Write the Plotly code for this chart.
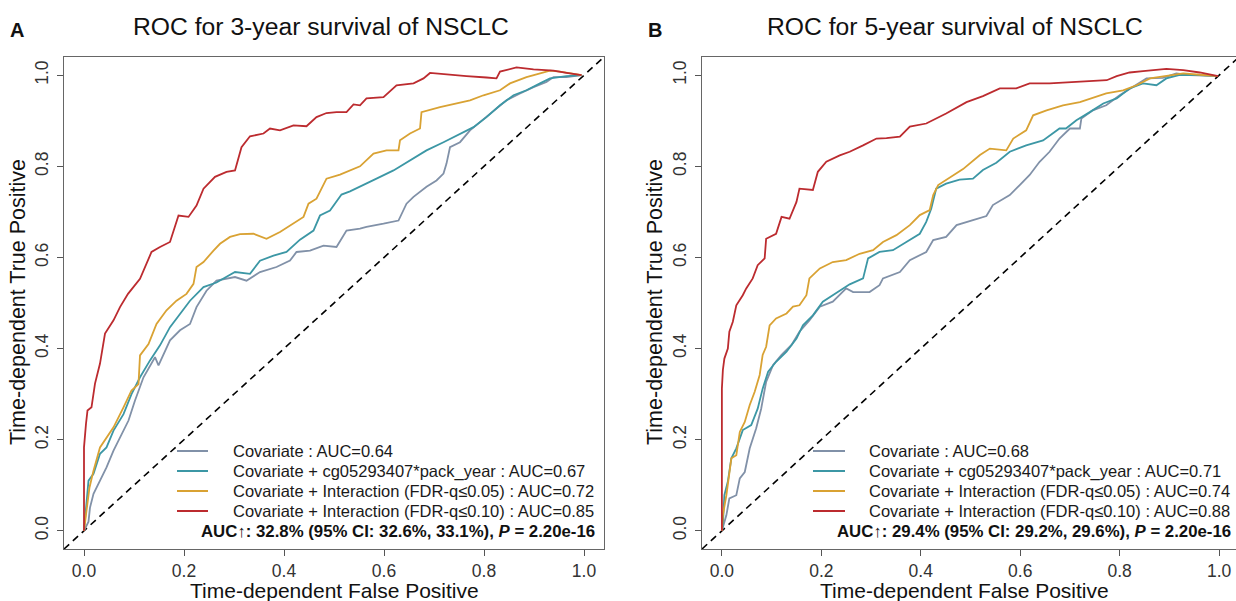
import plotly.graph_objects as go

# ---------------- data ----------------
# Panel A: 3-year survival
a_cov_x = [0.0, 0.009, 0.012, 0.019, 0.032, 0.045, 0.059, 0.072, 0.089, 0.102, 0.119, 0.142, 0.149, 0.172, 0.192, 0.212, 0.225, 0.245, 0.265, 0.302, 0.325, 0.352, 0.385, 0.412, 0.425, 0.452, 0.479, 0.505, 0.525, 0.552, 0.565, 0.599, 0.629, 0.645, 0.659, 0.685, 0.705, 0.719, 0.725, 0.732, 0.752, 0.772, 0.792, 0.819, 0.845, 0.872, 0.899, 0.925, 0.939, 0.965, 0.995]
a_cov_y = [0.0, 0.02, 0.051, 0.081, 0.110, 0.139, 0.176, 0.205, 0.242, 0.286, 0.337, 0.381, 0.363, 0.418, 0.440, 0.454, 0.491, 0.527, 0.549, 0.557, 0.549, 0.568, 0.579, 0.593, 0.612, 0.615, 0.626, 0.623, 0.659, 0.663, 0.667, 0.674, 0.681, 0.718, 0.733, 0.755, 0.769, 0.784, 0.806, 0.842, 0.853, 0.879, 0.897, 0.923, 0.945, 0.960, 0.974, 0.985, 0.996, 0.996, 1.0]

a_cg_x = [0.0, 0.009, 0.019, 0.032, 0.045, 0.059, 0.079, 0.095, 0.112, 0.132, 0.152, 0.172, 0.192, 0.212, 0.239, 0.265, 0.302, 0.332, 0.352, 0.379, 0.405, 0.432, 0.459, 0.472, 0.492, 0.515, 0.532, 0.552, 0.585, 0.619, 0.652, 0.685, 0.719, 0.752, 0.779, 0.805, 0.832, 0.859, 0.885, 0.912, 0.932, 0.965, 0.995]
a_cg_y = [0.0, 0.110, 0.125, 0.169, 0.183, 0.220, 0.256, 0.300, 0.337, 0.374, 0.407, 0.447, 0.476, 0.505, 0.535, 0.545, 0.568, 0.564, 0.593, 0.604, 0.612, 0.639, 0.659, 0.692, 0.703, 0.738, 0.745, 0.755, 0.773, 0.791, 0.813, 0.835, 0.853, 0.872, 0.886, 0.908, 0.934, 0.956, 0.967, 0.982, 0.993, 0.998, 1.0]

a_q05_x = [0.0, 0.002, 0.005, 0.011, 0.019, 0.032, 0.045, 0.059, 0.079, 0.095, 0.109, 0.112, 0.129, 0.145, 0.165, 0.185, 0.205, 0.219, 0.225, 0.239, 0.259, 0.272, 0.292, 0.312, 0.339, 0.365, 0.392, 0.419, 0.439, 0.449, 0.465, 0.485, 0.512, 0.552, 0.579, 0.605, 0.629, 0.632, 0.652, 0.672, 0.675, 0.712, 0.745, 0.772, 0.799, 0.832, 0.852, 0.885, 0.905, 0.932, 0.952, 0.995]
a_q05_y = [0.0, 0.022, 0.044, 0.095, 0.132, 0.183, 0.205, 0.227, 0.271, 0.308, 0.322, 0.385, 0.410, 0.454, 0.484, 0.505, 0.520, 0.542, 0.579, 0.590, 0.615, 0.630, 0.645, 0.651, 0.652, 0.641, 0.656, 0.674, 0.689, 0.718, 0.729, 0.773, 0.782, 0.800, 0.828, 0.835, 0.835, 0.857, 0.872, 0.883, 0.919, 0.930, 0.938, 0.945, 0.956, 0.967, 0.982, 0.996, 1.002, 1.010, 1.008, 1.0]

a_q10_x = [0.0, 0.0, 0.004, 0.007, 0.015, 0.022, 0.032, 0.042, 0.059, 0.072, 0.088, 0.112, 0.135, 0.152, 0.172, 0.189, 0.209, 0.225, 0.239, 0.262, 0.285, 0.302, 0.315, 0.332, 0.359, 0.372, 0.392, 0.419, 0.445, 0.465, 0.485, 0.505, 0.525, 0.539, 0.552, 0.565, 0.599, 0.625, 0.659, 0.679, 0.692, 0.719, 0.765, 0.805, 0.825, 0.832, 0.865, 0.899, 0.939, 0.965, 0.995]
a_q10_y = [0.0, 0.183, 0.235, 0.264, 0.271, 0.323, 0.367, 0.433, 0.462, 0.491, 0.520, 0.553, 0.612, 0.623, 0.634, 0.692, 0.689, 0.714, 0.751, 0.777, 0.788, 0.791, 0.842, 0.866, 0.872, 0.883, 0.879, 0.890, 0.888, 0.908, 0.917, 0.919, 0.919, 0.936, 0.934, 0.949, 0.952, 0.978, 0.982, 0.993, 1.005, 1.002, 0.998, 0.995, 0.993, 1.008, 1.017, 1.013, 1.010, 1.005, 1.0]

# Panel B: 5-year survival
b_cov_x = [0.0, 0.009, 0.015, 0.029, 0.036, 0.046, 0.056, 0.069, 0.079, 0.089, 0.103, 0.120, 0.140, 0.156, 0.176, 0.197, 0.223, 0.250, 0.264, 0.297, 0.317, 0.324, 0.358, 0.378, 0.411, 0.425, 0.451, 0.472, 0.505, 0.532, 0.545, 0.579, 0.599, 0.619, 0.639, 0.659, 0.679, 0.700, 0.720, 0.723, 0.746, 0.773, 0.800, 0.827, 0.854, 0.887, 0.914, 0.941, 0.998]
b_cov_y = [0.0, 0.034, 0.071, 0.078, 0.115, 0.129, 0.181, 0.225, 0.268, 0.327, 0.364, 0.386, 0.408, 0.437, 0.462, 0.492, 0.503, 0.532, 0.524, 0.524, 0.539, 0.554, 0.568, 0.594, 0.612, 0.638, 0.645, 0.671, 0.682, 0.691, 0.715, 0.737, 0.759, 0.781, 0.810, 0.832, 0.861, 0.883, 0.883, 0.905, 0.923, 0.934, 0.956, 0.974, 0.993, 0.994, 1.004, 1.0, 0.998]

b_cg_x = [0.0, 0.002, 0.005, 0.012, 0.019, 0.029, 0.042, 0.059, 0.072, 0.082, 0.093, 0.109, 0.130, 0.150, 0.163, 0.183, 0.203, 0.237, 0.257, 0.284, 0.294, 0.317, 0.344, 0.371, 0.398, 0.411, 0.421, 0.431, 0.451, 0.478, 0.505, 0.525, 0.552, 0.579, 0.612, 0.646, 0.666, 0.679, 0.692, 0.713, 0.740, 0.767, 0.794, 0.820, 0.847, 0.874, 0.894, 0.921, 0.961, 0.998]
b_cg_y = [0.0, 0.013, 0.078, 0.108, 0.159, 0.181, 0.221, 0.232, 0.268, 0.312, 0.349, 0.371, 0.393, 0.422, 0.451, 0.473, 0.503, 0.528, 0.541, 0.554, 0.598, 0.612, 0.616, 0.634, 0.652, 0.678, 0.707, 0.751, 0.762, 0.771, 0.773, 0.792, 0.808, 0.832, 0.846, 0.857, 0.872, 0.883, 0.883, 0.901, 0.919, 0.938, 0.949, 0.971, 0.982, 0.978, 0.993, 1.001, 1.0, 0.998]

b_q05_x = [0.0, 0.002, 0.009, 0.015, 0.019, 0.029, 0.036, 0.046, 0.056, 0.066, 0.076, 0.082, 0.089, 0.096, 0.109, 0.130, 0.143, 0.156, 0.170, 0.176, 0.197, 0.223, 0.250, 0.277, 0.304, 0.324, 0.351, 0.378, 0.398, 0.418, 0.425, 0.435, 0.458, 0.485, 0.519, 0.539, 0.572, 0.586, 0.612, 0.626, 0.653, 0.686, 0.720, 0.746, 0.773, 0.807, 0.834, 0.861, 0.894, 0.928, 0.961, 0.998]
b_q05_y = [0.0, 0.034, 0.078, 0.122, 0.159, 0.166, 0.217, 0.239, 0.276, 0.305, 0.342, 0.386, 0.404, 0.451, 0.466, 0.477, 0.492, 0.495, 0.517, 0.554, 0.576, 0.590, 0.594, 0.608, 0.616, 0.634, 0.649, 0.671, 0.693, 0.704, 0.737, 0.759, 0.775, 0.794, 0.825, 0.839, 0.835, 0.861, 0.879, 0.912, 0.923, 0.934, 0.941, 0.950, 0.960, 0.967, 0.978, 0.993, 0.998, 1.004, 1.001, 0.998]

b_q10_x = [0.0, 0.0, 0.002, 0.005, 0.012, 0.015, 0.022, 0.029, 0.042, 0.049, 0.062, 0.072, 0.086, 0.089, 0.109, 0.120, 0.136, 0.150, 0.156, 0.183, 0.193, 0.210, 0.237, 0.257, 0.284, 0.311, 0.331, 0.358, 0.378, 0.411, 0.451, 0.492, 0.525, 0.559, 0.592, 0.619, 0.659, 0.700, 0.740, 0.774, 0.794, 0.820, 0.847, 0.874, 0.894, 0.928, 0.961, 0.998]
b_q10_y = [0.0, 0.312, 0.353, 0.378, 0.400, 0.437, 0.459, 0.495, 0.517, 0.532, 0.554, 0.583, 0.598, 0.641, 0.652, 0.689, 0.685, 0.722, 0.751, 0.748, 0.788, 0.810, 0.824, 0.832, 0.846, 0.861, 0.862, 0.865, 0.887, 0.894, 0.916, 0.941, 0.954, 0.971, 0.971, 0.982, 0.982, 0.984, 0.987, 0.989, 0.998, 1.006, 1.009, 1.011, 1.014, 1.011, 1.006, 0.998]

diag = [-0.04, 1.04]
tick_vals = [0.0, 0.2, 0.4, 0.6, 0.8, 1.0]
tick_text = ["0.0", "0.2", "0.4", "0.6", "0.8", "1.0"]

series_names = ["Covariate", "Covariate + cg05293407*pack_year",
                "Covariate + Interaction (FDR-q\u22640.05)", "Covariate + Interaction (FDR-q\u22640.10)"]
auc_a = [0.64, 0.67, 0.72, 0.85]
auc_b = [0.68, 0.71, 0.74, 0.88]
colors = ["#8191A8", "#3C97A5", "#D9A233", "#BC2B2F"]

titles = ["ROC for 3-year survival of NSCLC", "ROC for 5-year survival of NSCLC"]
stat_a = "<b>AUC\u2191: 32.8% (95% CI: 32.6%, 33.1%), <i>P</i> = 2.20e-16</b>"
stat_b = "<b>AUC\u2191: 29.4% (95% CI: 29.2%, 29.6%), <i>P</i> = 2.20e-16</b>"

# ---------------- figure ----------------
W, H = 1236, 601
ML, MR, MT, MB = 64, 0, 57, 52
PW = W - ML - MR
PH = H - MT - MB

def px_x(p):
    return (p - ML) / PW

def px_y(p):
    return 1 - (p - MT) / PH

FONT = "Liberation Sans, Arial, sans-serif"
fig = go.Figure()

panelA = [(a_cov_x, a_cov_y), (a_cg_x, a_cg_y), (a_q05_x, a_q05_y), (a_q10_x, a_q10_y)]
panelB = [(b_cov_x, b_cov_y), (b_cg_x, b_cg_y), (b_q05_x, b_q05_y), (b_q10_x, b_q10_y)]

for axis_id, panel, aucs in [("", panelA, auc_a), ("2", panelB, auc_b)]:
    fig.add_trace(go.Scatter(x=diag, y=diag, mode="lines", showlegend=False,
                             line=dict(color="black", width=1.6, dash="7px,5px"),
                             xaxis="x" + axis_id, yaxis="y" + axis_id, hoverinfo="skip"))
    for (xs, ys), name, auc, col in zip(panel, series_names, aucs, colors):
        fig.add_trace(go.Scatter(x=xs, y=ys, mode="lines", showlegend=False,
                                 name=f"{name} : AUC={auc:.2f}",
                                 line=dict(color=col, width=1.8),
                                 xaxis="x" + axis_id, yaxis="y" + axis_id))

axis_common = dict(showgrid=False, zeroline=False, showline=True, mirror=True,
                   linecolor="#666666", linewidth=1.3, ticks="outside", ticklen=6,
                   tickcolor="#555555", tickwidth=1.2, tickvals=tick_vals, ticktext=tick_text,
                   tickfont=dict(family=FONT, size=17.5, color="#333333"))

xA0, xA1 = 0.0, px_x(604)
xB0, xB1 = px_x(702), 1.0

fig.update_layout(
    width=W, height=H, margin=dict(l=ML, r=MR, t=MT, b=MB),
    plot_bgcolor="white", paper_bgcolor="white", showlegend=False,
    xaxis=dict(domain=[xA0, xA1], range=[-0.04, 1.04], anchor="y", ticklabelstandoff=0, **axis_common),
    yaxis=dict(domain=[0, 1], range=[-0.04, 1.04], anchor="x", tickangle=-90, ticklabelstandoff=2, **axis_common),
    xaxis2=dict(domain=[xB0, xB1], range=[-0.04, 1.034], anchor="y2", ticklabelstandoff=0, **axis_common),
    yaxis2=dict(domain=[0, 1], range=[-0.04, 1.04], anchor="x2", tickangle=-90, ticklabelstandoff=2, **axis_common),
)

ann = []
shapes = []

def text(t, x, y, size, xanchor="center", angle=0, color="#111111"):
    ann.append(dict(text=t, x=px_x(x), y=px_y(y), xref="paper", yref="paper",
                    xanchor=xanchor, yanchor="middle", showarrow=False, textangle=angle,
                    font=dict(family=FONT, size=size, color=color)))

# panel letters
text("<b>A</b>", 17, 30, 20)
text("<b>B</b>", 655, 30, 20)
# titles
text(titles[0], 321, 26, 24.7)
text(titles[1], 955, 26, 24.7)
# axis titles
for cx in [334, 964]:
    text("Time-dependent False Positive", cx, 590, 21)
for cx in [18, 655]:
    text("Time-dependent True Positive", cx, 302, 21.5, angle=-90)

# legends (drawn manually, R style without box)
row_y = [451, 471, 491, 511]
for (lx0, lx1, tx), aucs in [((177, 208, 231), auc_a), ((813, 845, 867), auc_b)]:
    for yy, name, auc, col in zip(row_y, series_names, aucs, colors):
        shapes.append(dict(type="line", xref="paper", yref="paper",
                           x0=px_x(lx0), x1=px_x(lx1), y0=px_y(yy), y1=px_y(yy),
                           line=dict(color=col, width=2)))
        text(f"{name} : AUC={auc:.2f}", tx, yy, 16.5, xanchor="left", color="#1a1a1a")

# stats lines
text(stat_a, 597, 531, 16.8, xanchor="right")
text(stat_b, 1233, 531, 16.8, xanchor="right")

fig.update_layout(annotations=ann, shapes=shapes)

fig.write_html("out.html", config={"displayModeBar": False},
               post_script="document.body.style.margin='0';document.body.style.overflow='hidden';")
